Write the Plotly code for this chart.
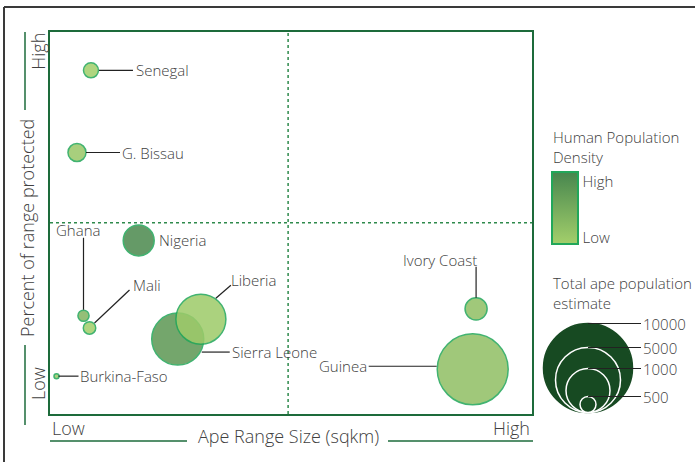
import plotly.graph_objects as go

# --- data ---
countries = ["Senegal", "G. Bissau", "Ghana", "Mali", "Nigeria", "Sierra Leone",
             "Liberia", "Burkina-Faso", "Ivory Coast", "Guinea"]
range_size = [8.5, 5.6, 6.95, 8.2, 18.4, 26.5, 31.3, 1.35, 88.4, 87.7]        # 0 = low, 100 = high
range_protected = [89.9, 68.4, 25.7, 22.5, 45.4, 19.6, 24.8, 9.9, 27.5, 11.7]  # 0 = low, 100 = high
ape_population = [290, 420, 160, 200, 1240, 3490, 3230, 30, 630, 6500]
human_density = [0.0, 0.1, 0.35, 0.0, 0.95, 0.75, 0.05, 0.05, 0.2, 0.2]      # 0 = low, 1 = high

legend_values = [10000, 5000, 1000, 500]

# --- styles ---
FONT = "Open Sans"
WEIGHT = 300
TXT = "#404040"
FRAME_GREEN = "#1d6b3b"
EDGE_GREEN = "#22a75a"
# plotly: area-mode diameter = sqrt(2 * value / sizeref); 10000 -> 88 px
SIZEREF = 2 * 10000 / 88 ** 2
legend_diam = [89, 65, 44, 16]   # drawn size of the legend circles (px)

# label placement: xshift, yshift, xanchor, leader line (screen px offsets from bubble centre)
label_style = {
    "Senegal": (43, 0, "left", [(8, 0), (42, 0)]),
    "G. Bissau": (43, 0, "left", [(9, 0), (43, 0)]),
    "Ghana": (-6, 86, "center", [(0, -6), (0, -78)]),
    "Mali": (41, 43, "left", [(5, -5), (40, -38)]),
    "Nigeria": (18, 0, "left", None),
    "Liberia": (28, 39, "left", [(15, -21), (30, -34)]),
    "Sierra Leone": (52, -13, "left", [(24, 13), (52, 13)]),
    "Burkina-Faso": (21, 0, "left", [(2, 0), (22, 0)]),
    "Ivory Coast": (-36, 49, "center", [(0, -11), (0, -42)]),
    "Guinea": (-104, 3, "right", [(-36, -3), (-104, -3)]),
}

colorscale = [[0, "#a3cf6b"], [1, "#47864e"]]


def font(size):
    return dict(size=size, color=TXT, family=FONT, weight=WEIGHT)


fig = go.Figure()
fig.add_trace(go.Scatter(
    x=range_size, y=range_protected, mode="markers", text=countries,
    hoverinfo="text",
    marker=dict(size=ape_population, sizemode="area", sizeref=SIZEREF, sizemin=2.5,
                color=human_density, cmin=0, cmax=1, colorscale=colorscale, opacity=0.86,
                line=dict(color=EDGE_GREEN, width=1.5),
                colorbar=dict(x=552 / 695, xanchor="left", xpad=0,
                              y=1 - 172 / 462, yanchor="top", ypad=0,
                              len=72, lenmode="pixels", thickness=26,
                              outlinecolor=EDGE_GREEN, outlinewidth=2,
                              tickvals=[0.08, 0.87], ticktext=["Low", "High"],
                              ticks="", tickfont=font(15))),
    showlegend=False,
))

shapes = []
annotations = []

# quadrant dividers
shapes.append(dict(type="line", xref="x", yref="y domain", x0=49.4, x1=49.4, y0=0, y1=1,
                   line=dict(color="#2e8a4c", width=1.5, dash="dot")))
shapes.append(dict(type="line", xref="x domain", yref="y", x0=0, x1=1, y0=50, y1=50,
                   line=dict(color="#2e8a4c", width=1.5, dash="dot")))

# country labels and leader lines
for name, xv, yv in zip(countries, range_size, range_protected):
    xs, ys, anchor, line = label_style[name]
    annotations.append(dict(x=xv, y=yv, xref="x", yref="y", text=name, showarrow=False,
                            xanchor=anchor, yanchor="middle", xshift=xs, yshift=ys,
                            font=font(15)))
    if line:
        (a, b), (c, d) = line
        shapes.append(dict(type="line", xref="x", yref="y", xsizemode="pixel", ysizemode="pixel",
                           xanchor=xv, yanchor=yv, x0=a, x1=c, y0=-b, y1=-d,
                           line=dict(color="#222222", width=1.2)))

# axis end labels
annotations += [
    dict(xref="x domain", yref="paper", x=0, y=1 - 428 / 462, text="Low", xanchor="left",
         yanchor="middle", showarrow=False, font=font(18)),
    dict(xref="x domain", yref="paper", x=1, y=1 - 428 / 462, text="High", xanchor="right",
         yanchor="middle", showarrow=False, font=font(18)),
    dict(xref="paper", yref="y domain", x=38 / 695, y=1 - 20 / 382, text="High", textangle=-90,
         xanchor="center", yanchor="middle", showarrow=False, font=font(18)),
    dict(xref="paper", yref="y domain", x=38 / 695, y=30 / 382, text="Low", textangle=-90,
         xanchor="center", yanchor="middle", showarrow=False, font=font(18)),
    dict(xref="paper", yref="paper", x=288 / 695, y=1 - 436 / 462, text="Ape Range Size (sqkm)",
         xanchor="center", yanchor="middle", showarrow=False, font=font(18)),
    dict(xref="paper", yref="paper", x=27 / 695, y=1 - 228 / 462, text="Percent of range protected",
         textangle=-90, xanchor="center", yanchor="middle", showarrow=False, font=font(18)),
]
# title lines beside the axis titles
for x0, x1 in [(50, 187), (388, 533)]:
    shapes.append(dict(type="line", xref="paper", yref="paper", x0=x0 / 695, x1=x1 / 695,
                       y0=1 - 441 / 462, y1=1 - 441 / 462, line=dict(color=FRAME_GREEN, width=1.5)))
for y0, y1 in [(32, 110), (345, 425)]:
    shapes.append(dict(type="line", xref="paper", yref="paper", x0=25 / 695, x1=25 / 695,
                       y0=1 - y0 / 462, y1=1 - y1 / 462, line=dict(color=FRAME_GREEN, width=1.5)))

# outer frame (top and left)
shapes.append(dict(type="line", xref="paper", yref="paper", x0=4 / 695, x1=1,
                   y0=1 - 7 / 462, y1=1 - 7 / 462, line=dict(color="#3a3a3a", width=2)))
shapes.append(dict(type="line", xref="paper", yref="paper", x0=4 / 695, x1=4 / 695,
                   y0=0, y1=1 - 7 / 462, line=dict(color="#3a3a3a", width=2)))

# colour legend title
annotations.append(dict(xref="paper", yref="paper", x=551 / 695, y=1 - 147 / 462,
                        text="Human Population<br>Density", align="left", xanchor="left",
                        yanchor="middle", showarrow=False, font=font(15)))

# size legend
annotations.append(dict(xref="paper", yref="paper", x=551 / 695, y=1 - 293 / 462,
                        text="Total ape population<br>estimate", align="left", xanchor="left",
                        yanchor="middle", showarrow=False, font=font(15)))
lx, ly = 588 / 695, 1 - 412.5 / 462
for i, (val, d) in enumerate(zip(legend_values, legend_diam)):
    shapes.append(dict(type="circle", xref="paper", yref="paper", xsizemode="pixel",
                       ysizemode="pixel", xanchor=lx, yanchor=ly, x0=-d / 2, x1=d / 2, y0=0, y1=d,
                       fillcolor="#174a22",
                       line=dict(color="#174a22" if i == 0 else "white", width=1.5)))
for val, d in zip(legend_values, legend_diam):
    shapes.append(dict(type="line", xref="paper", yref="paper", xsizemode="pixel",
                       ysizemode="pixel", xanchor=lx, yanchor=ly, x0=0, x1=53, y0=d, y1=d,
                       line=dict(color="#222222", width=1.2)))
    annotations.append(dict(xref="paper", yref="paper", x=lx, y=ly, xshift=53, yshift=d,
                            text=str(val), xanchor="left", yanchor="middle", showarrow=False,
                            font=font(15)))

fig.update_layout(
    width=695, height=462,
    margin=dict(l=0, r=0, t=0, b=0, autoexpand=False),
    paper_bgcolor="white", plot_bgcolor="white",
    font=dict(family=FONT, color=TXT),
    xaxis=dict(domain=[50 / 695, 532 / 695], range=[0, 100], showgrid=False, zeroline=False,
               showticklabels=False, ticks="", showline=True, mirror=True,
               linecolor=FRAME_GREEN, linewidth=2),
    yaxis=dict(domain=[1 - 414 / 462, 1 - 31.7 / 462], range=[0, 100], showgrid=False,
               zeroline=False, showticklabels=False, ticks="", showline=True, mirror=True,
               linecolor=FRAME_GREEN, linewidth=2),
    shapes=shapes, annotations=annotations,
)

fig.write_html("out.html", config={"displayModeBar": False},
               post_script="document.body.style.margin='0';")
